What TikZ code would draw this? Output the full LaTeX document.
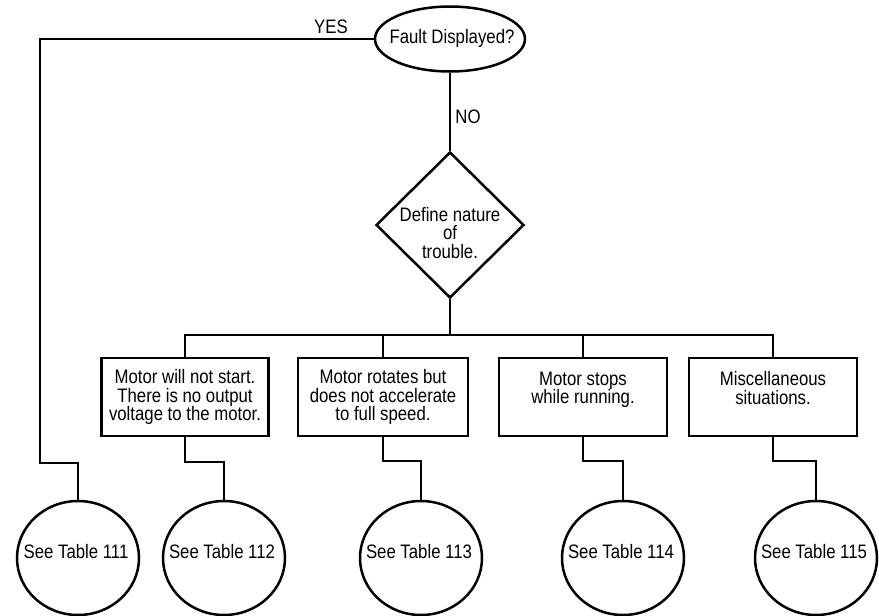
\documentclass[tikz,border=0pt]{standalone}
\usepackage{fontspec}
\setmainfont[FakeStretch=0.86]{Liberation Sans}
\usetikzlibrary{shapes.geometric}
\begin{document}
\begin{tikzpicture}[x=1pt,y=-1pt,line width=2.5pt,
  every node/.style={font=\fontsize{19.5}{18.5}\selectfont, inner sep=0pt},
  txt/.style={align=center},
  oval/.style={draw, ellipse, minimum width=150pt, minimum height=65pt},
  decision/.style={draw, diamond, minimum width=148pt, minimum height=146pt},
  stepbox/.style={draw, rectangle, minimum height=78pt, align=center},
  tablecircle/.style={draw, ellipse, minimum width=122pt, minimum height=114pt}]
\useasboundingbox (0,0) rectangle (879,616);
\fill[white] (0,0) rectangle (879,616);

% start question
\node[oval] (fault) at (450,39) {};
\node[txt] (faulttext) at (452,38) {Fault Displayed?};

% decision
\node[decision] (nature) at (450,225) {};
\node[txt] (naturetext) at (450,233) {Define nature\\of\\trouble.};

% symptom boxes
\node[stepbox, minimum width=167pt] (b1) at (185,397) {Motor will not start.\\There is no output\\voltage to the motor.};
\node[stepbox, minimum width=170pt] (b2) at (383,397) {Motor rotates but\\does not accelerate\\to full speed.};
\node[stepbox, minimum width=168pt] (b3) at (583,397) {Motor stops\\while running.\\\phantom{x}};
\node[stepbox, minimum width=168pt] (b4) at (773,397) {Miscellaneous\\situations.\\\phantom{x}};

% table references
\foreach \i/\x/\t in {1/78/111, 2/224/112, 3/421/113, 4/623/114, 5/816/115}{
  \node[tablecircle] (c\i) at (\x,558) {};
  \node[txt] (ct\i) at (\x-2,552) {See Table \t};
}

% labels
\node (yes) at (331,27) {YES};
\node (no) at (468,117) {NO};

% helper coordinates
\coordinate (ycorner) at (40,463);
\coordinate (bus) at (450,335);
\coordinate (j1) at (185,462);
\coordinate (j2) at (383,461);
\coordinate (j3) at (583,461);
\coordinate (j4) at (773,461);

% connectors
\draw (fault.west) -| (ycorner) -| (c1.north);
\draw (fault.south) -- (nature.north);
\draw (nature.south) -- (bus);
\draw (b1.north) |- (bus) -| (b4.north);
\draw (b2.north) -- (b2.north |- bus);
\draw (b3.north) -- (b3.north |- bus);
\draw (b1.south) -- (j1) -| (c2.north);
\draw (b2.south) -- (j2) -| (c3.north);
\draw (b3.south) -- (j3) -| (c4.north);
\draw (b4.south) -- (j4) -| (c5.north);
\end{tikzpicture}
\end{document}
